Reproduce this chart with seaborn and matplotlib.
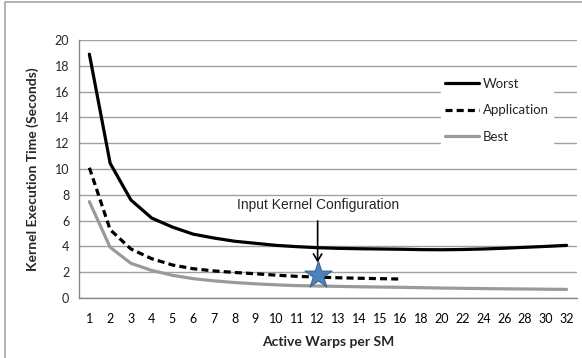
import numpy as np
import pandas as pd
import matplotlib
matplotlib.use("Agg")
import matplotlib.pyplot as plt
import seaborn as sns
from matplotlib.patches import Rectangle
from matplotlib.lines import Line2D

categories = ["1", "2", "3", "4", "5", "6", "7", "8", "9", "10", "11", "12",
              "13", "14", "15", "16", "18", "20", "22", "24", "26", "28", "30", "32"]
worst = [18.9, 10.45, 7.6, 6.2, 5.5, 4.95, 4.65, 4.4, 4.24, 4.08, 3.98, 3.9,
         3.85, 3.82, 3.8, 3.78, 3.75, 3.74, 3.76, 3.8, 3.86, 3.93, 4.0, 4.08]
application = [10.1, 5.3, 3.8, 3.05, 2.56, 2.27, 2.1, 1.98, 1.88, 1.77, 1.68, 1.62,
               1.57, 1.53, 1.5, 1.47]
best = [7.47, 3.93, 2.69, 2.14, 1.76, 1.5, 1.33, 1.2, 1.1, 1.02, 0.96, 0.93,
        0.9, 0.87, 0.85, 0.83, 0.8, 0.77, 0.75, 0.73, 0.71, 0.7, 0.68, 0.67]
series_names = ["Worst", "Application", "Best"]
input_config_category = "12"
input_config_value = 1.75
annotation_text = "Input Kernel Configuration"
y_ticks = list(range(0, 21, 2))

rows = []
for name, vals in zip(series_names, [worst, application, best]):
    for i, v in enumerate(vals):
        rows.append({"pos": i, "cat": categories[i], "value": v, "series": name})
df = pd.DataFrame(rows)

sns.set_theme(style="white")
plt.rcParams["font.family"] = ["Lato", "DejaVu Sans"]

fig = plt.figure(figsize=(5.82, 3.58), dpi=100)
ax = fig.add_axes([79 / 582, 1 - 298 / 358, 498 / 582, 258 / 358])

# outer chart border
fig.patches.append(Rectangle((5 / 582, -0.05), 1.2, 1 - 2 / 358 + 0.05,
                             transform=fig.transFigure, fill=False,
                             edgecolor="#a6a6a6", lw=1.2))

palette = {"Worst": "black", "Application": "black", "Best": "#9a9a9a"}
dashes = {"Worst": "", "Application": (2.2, 1.3), "Best": ""}
sns.lineplot(data=df, x="pos", y="value", hue="series", style="series",
             palette=palette, dashes=dashes, hue_order=series_names,
             style_order=series_names, linewidth=2.3, ax=ax, legend=False)

# star at input configuration
star_pos = categories.index(input_config_category)
sns.scatterplot(x=[star_pos], y=[input_config_value], marker="*", s=420,
                color="#4f81bd", edgecolor="#3a6595", linewidth=0.8,
                ax=ax, zorder=5)

ax.annotate(annotation_text, xy=(star_pos, 2.75), xytext=(star_pos, 7.2),
            ha="center", va="center", fontsize=10,
            family=["Liberation Sans", "DejaVu Sans"],
            arrowprops=dict(arrowstyle="->,head_length=0.5,head_width=0.3",
                            color="black", lw=1.2, shrinkA=4, shrinkB=0))

ax.set_xlim(-0.5, len(categories) - 0.5)
ax.set_ylim(0, 20)
ax.set_yticks(y_ticks)
ax.set_yticklabels([str(t) for t in y_ticks])
ax.set_xticks(range(len(categories)))
ax.set_xticklabels(categories)
ax.set_xticks(np.arange(-0.5, len(categories), 1), minor=True)
ax.tick_params(axis="x", which="major", length=0, pad=11, labelsize=9,
               colors="black")
ax.tick_params(axis="x", which="minor", length=4, width=1, color="#888888",
               direction="out")
ax.tick_params(axis="y", which="major", length=4, width=1, color="#888888",
               direction="out", labelsize=9, pad=3)
ax.grid(axis="y", color="#a0a0a0", lw=1)
ax.set_axisbelow(True)
for side in ["top", "right"]:
    ax.spines[side].set_visible(False)
for side in ["left", "bottom"]:
    ax.spines[side].set_color("#888888")
    ax.spines[side].set_linewidth(1)

ax.set_xlabel("Active Warps per SM", fontsize=10, fontweight="bold", labelpad=8)
ax.set_ylabel("Kernel Execution Time (Seconds)", fontsize=10, fontweight="bold",
              labelpad=11)

handles = [Line2D([], [], color="black", lw=2.3),
           Line2D([], [], color="black", lw=2.3, dashes=(2.2, 1.3)),
           Line2D([], [], color="#9a9a9a", lw=2.3)]
leg = ax.legend(handles, series_names, loc="upper left",
                bbox_to_anchor=(441 / 582, 1 - 74 / 358),
                bbox_transform=fig.transFigure, frameon=True, fontsize=9.5,
                handlelength=2.6, handletextpad=0.3, labelspacing=1.1,
                borderpad=0.3, borderaxespad=0)
leg.get_frame().set_edgecolor("white")
leg.get_frame().set_facecolor("white")
leg.get_frame().set_alpha(1)

fig.savefig("out.png", dpi=100)
